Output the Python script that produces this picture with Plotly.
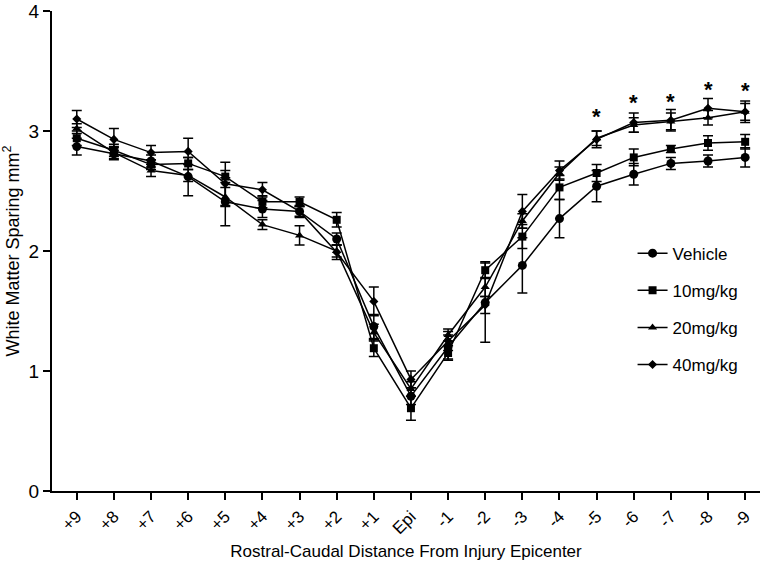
import plotly.graph_objects as go

# rostral-caudal positions
positions = ['+9', '+8', '+7', '+6', '+5', '+4', '+3', '+2', '+1', 'Epi',
             '-1', '-2', '-3', '-4', '-5', '-6', '-7', '-8', '-9']

vehicle = [2.87, 2.81, 2.75, 2.62, 2.41, 2.35, 2.33, 2.10, 1.37, 0.79,
           1.20, 1.57, 1.88, 2.27, 2.54, 2.64, 2.73, 2.75, 2.78]
vehicle_err = [0.07, 0.05, 0.05, 0.16, 0.20, 0.07, 0.05, 0.05, 0.10, 0.07,
               0.10, 0.33, 0.23, 0.16, 0.13, 0.09, 0.05, 0.05, 0.08]

mg10 = [2.94, 2.84, 2.72, 2.73, 2.62, 2.41, 2.41, 2.26, 1.19, 0.69,
        1.15, 1.84, 2.12, 2.53, 2.65, 2.78, 2.85, 2.90, 2.91]
mg10_err = [0.06, 0.05, 0.04, 0.05, 0.05, 0.05, 0.04, 0.06, 0.07, 0.10,
            0.06, 0.07, 0.10, 0.10, 0.07, 0.07, 0.03, 0.06, 0.06]

mg20 = [3.02, 2.82, 2.67, 2.63, 2.45, 2.22, 2.13, 2.00, 1.32, 0.85,
        1.30, 1.70, 2.25, 2.65, 2.94, 3.05, 3.08, 3.11, 3.16]
mg20_err = [0.04, 0.05, 0.05, 0.05, 0.08, 0.04, 0.08, 0.05, 0.07, 0.06,
            0.05, 0.08, 0.06, 0.05, 0.06, 0.06, 0.07, 0.06, 0.07]

mg40 = [3.10, 2.93, 2.82, 2.83, 2.56, 2.51, 2.33, 1.99, 1.58, 0.93,
        1.25, 1.55, 2.33, 2.67, 2.93, 3.07, 3.09, 3.19, 3.16]
mg40_err = [0.07, 0.09, 0.06, 0.11, 0.18, 0.06, 0.04, 0.06, 0.12, 0.07,
            0.08, 0.07, 0.14, 0.08, 0.07, 0.08, 0.09, 0.08, 0.09]

# significance stars
star_pos = ['-5', '-6', '-7', '-8', '-9']
star_y = [3.12, 3.24, 3.25, 3.35, 3.34]

series = [
    ('Vehicle', vehicle, vehicle_err, 'circle', 9),
    ('10mg/kg', mg10, mg10_err, 'square', 8),
    ('20mg/kg', mg20, mg20_err, 'triangle-up', 8),
    ('40mg/kg', mg40, mg40_err, 'diamond', 7),
]

fig = go.Figure()
for name, vals, errs, sym, sz in series:
    fig.add_trace(go.Scatter(
        x=positions, y=vals, name=name, mode='lines+markers',
        legendgroup=name,
        line=dict(color='black', width=1.5),
        marker=dict(symbol=sym, size=sz, color='black'),
        error_y=dict(type='data', array=errs, color='black',
                     thickness=1.5, width=5),
    ))

# category axis: annotations need the index, not the label string
for p, yv in zip(star_pos, star_y):
    fig.add_annotation(x=positions.index(p), y=yv, text='<b>*</b>', showarrow=False,
                       font=dict(size=22, color='black'))

fig.update_xaxes(type='category', range=[-0.667, 18.4], automargin=False,
                 showline=True, linewidth=2, linecolor='black',
                 ticks='outside', ticklen=7, tickwidth=2, tickcolor='black',
                 tickangle=-45, tickfont=dict(size=17, color='black'),
                 showgrid=False, zeroline=False,
                 title=dict(text='Rostral-Caudal Distance From Injury Epicenter',
                            font=dict(size=17, color='black'), standoff=8))
fig.update_yaxes(range=[0, 4], tickvals=[0, 1, 2, 3, 4], automargin=False,
                 showline=True, linewidth=2, linecolor='black',
                 ticks='outside', ticklen=7, tickwidth=2, tickcolor='black',
                 tickfont=dict(size=19, color='black'),
                 showgrid=False, zeroline=False,
                 title=dict(text='White Matter Sparing mm<sup>2</sup>',
                            font=dict(size=18, color='black'), standoff=6))

fig.update_layout(
    width=771, height=570,
    margin=dict(l=52, r=11, t=11, b=79),
    plot_bgcolor='white', paper_bgcolor='white',
    font=dict(family='Liberation Sans, Arial, sans-serif', color='black'),
    legend=dict(x=0.82, y=0.532, xanchor='left', yanchor='top',
                font=dict(size=17), tracegroupgap=12,
                bgcolor='rgba(0,0,0,0)'),
)

# drop the default 8px body margin so the figure fills the window
fig.write_html('out.html', config={'displayModeBar': False},
               post_script="document.body.style.margin='0';")
